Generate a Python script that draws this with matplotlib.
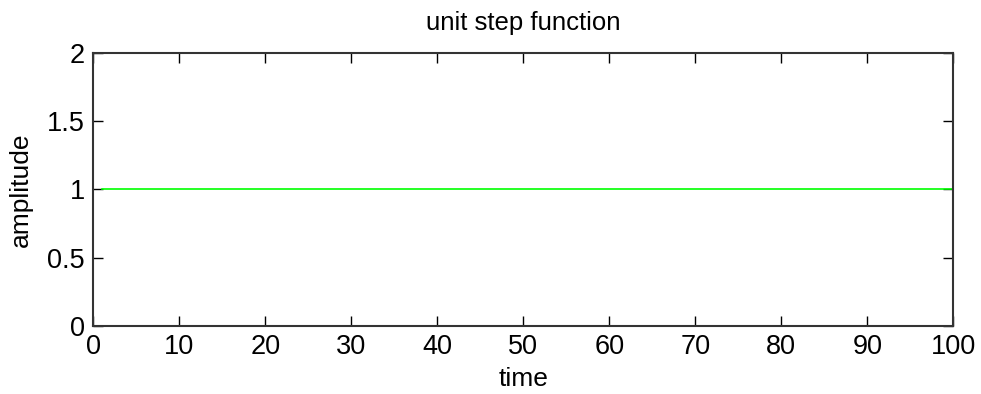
import matplotlib
matplotlib.use("Agg")
import matplotlib.pyplot as plt
import numpy as np

plt.rcParams['font.family'] = ['Liberation Sans', 'DejaVu Sans']

t = np.arange(1, 101)
u = np.ones_like(t, dtype=float)

xticks = [0, 10, 20, 30, 40, 50, 60, 70, 80, 90, 100]
yticks = [0, 0.5, 1, 1.5, 2]
yticklabels = ['0', '0.5', '1', '1.5', '2']

fig = plt.figure(figsize=(9.81, 3.94), dpi=100)
ax = fig.add_axes([0.0951, 0.1726, 0.9718 - 0.0951, 0.8662 - 0.1726])
ax.plot(t, u, color='#00ff00', linewidth=1.2)
ax.set_xlim(0, 100)
ax.set_ylim(0, 2)
ax.set_xticks(xticks)
ax.set_yticks(yticks)
ax.set_yticklabels(yticklabels)
ax.tick_params(direction='in', length=7, width=1, labelsize=19.5, top=True, right=True, pad=6, colors='black')
for s in ax.spines.values():
    s.set_linewidth(1.5)
    s.set_color('#333333')
ax.set_title('unit step function', fontsize=18.5, pad=16)
ax.set_xlabel('time', fontsize=19, labelpad=5)
ax.set_ylabel('amplitude', fontsize=19, labelpad=10)
fig.savefig('out.png', dpi=100)
